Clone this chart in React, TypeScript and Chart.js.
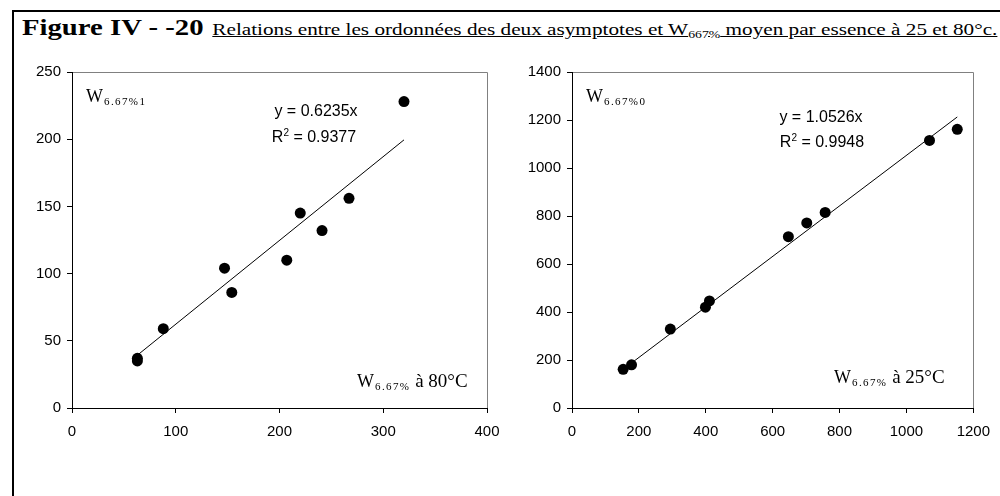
import React, { useEffect, useLayoutEffect, useRef } from "react";
import { Chart, registerables } from "chart.js";

Chart.register(...registerables);

// ---------- data ----------
const leftX = [63, 63, 88, 147, 154, 207, 220, 241, 267, 320];
const leftY = [37, 35, 59, 104, 86, 110, 145, 132, 156, 228];
const leftSlope = 0.6235;
const leftR2 = "0.9377";
const leftXTicks = [0, 100, 200, 300, 400];
const leftYTicks = [0, 50, 100, 150, 200, 250];

const rightX = [153, 178, 294, 399, 411, 647, 702, 757, 1069, 1152];
const rightY = [161, 180, 329, 420, 446, 714, 771, 815, 1115, 1161];
const rightSlope = 1.0526;
const rightR2 = "0.9948";
const rightXTicks = [0, 200, 400, 600, 800, 1000, 1200];
const rightYTicks = [0, 200, 400, 600, 800, 1000, 1200, 1400];

const SERIF = '"Liberation Serif", "Times New Roman", serif';
const SANS = '"Liberation Sans", Arial, sans-serif';

const framePlugin = {
  id: "frame",
  beforeDraw(chart: any) {
    const { ctx, chartArea: a } = chart;
    ctx.save();
    ctx.strokeStyle = "#808080";
    ctx.lineWidth = 1;
    ctx.beginPath();
    ctx.moveTo(a.left, Math.round(a.top) + 0.5);
    ctx.lineTo(Math.round(a.right) + 0.5, Math.round(a.top) + 0.5);
    ctx.lineTo(Math.round(a.right) + 0.5, a.bottom);
    ctx.stroke();
    ctx.restore();
  },
};

function makeConfig(
  xs: number[],
  ys: number[],
  slope: number,
  xTicks: number[],
  yTicks: number[],
  yAxisWidth: number,
  padRight: number
) {
  const minX = Math.min(...xs);
  const maxX = Math.max(...xs);
  const tickFont = { family: SANS, size: 15 };
  return {
    type: "scatter" as const,
    data: {
      datasets: [
        {
          data: xs.map((x, i) => ({ x, y: ys[i] })),
          pointRadius: 5.5,
          pointHoverRadius: 5.5,
          backgroundColor: "#000",
          borderColor: "#000",
          borderWidth: 0,
          showLine: false,
        },
        {
          data: [
            { x: minX, y: slope * minX },
            { x: maxX, y: slope * maxX },
          ],
          showLine: true,
          borderColor: "#000",
          borderWidth: 1,
          pointRadius: 0,
          fill: false,
        },
      ],
    },
    options: {
      animation: false,
      responsive: false,
      maintainAspectRatio: false,
      events: [],
      layout: { padding: { top: 17, right: padRight, left: 0, bottom: 0 } },
      plugins: { legend: { display: false }, tooltip: { enabled: false } },
      scales: {
        x: {
          type: "linear",
          min: xTicks[0],
          max: xTicks[xTicks.length - 1],
          afterFit: (s: any) => {
            s.height = 42;
          },
          afterBuildTicks: (s: any) => {
            s.ticks = xTicks.map((v) => ({ value: v }));
          },
          grid: {
            drawOnChartArea: false,
            drawTicks: true,
            tickLength: 5,
            color: "#000",
          },
          border: { display: true, color: "#000", width: 1 },
          ticks: {
            color: "#000",
            font: tickFont,
            padding: 10,
            maxRotation: 0,
            callback: (v: any) => String(v),
          },
        },
        y: {
          type: "linear",
          min: yTicks[0],
          max: yTicks[yTicks.length - 1],
          afterFit: (s: any) => {
            s.width = yAxisWidth;
          },
          afterBuildTicks: (s: any) => {
            s.ticks = yTicks.map((v) => ({ value: v }));
          },
          grid: {
            drawOnChartArea: false,
            drawTicks: true,
            tickLength: 5,
            color: "#000",
          },
          border: { display: true, color: "#000", width: 1 },
          ticks: {
            color: "#000",
            font: tickFont,
            padding: 6,
            callback: (v: any) => String(v),
          },
        },
      },
    },
    plugins: [framePlugin],
  };
}

function ChartCanvas(props: {
  left: number;
  top: number;
  width: number;
  height: number;
  config: any;
}) {
  const ref = useRef<HTMLCanvasElement | null>(null);
  useEffect(() => {
    if (!ref.current) return;
    const c = new Chart(ref.current, props.config);
    return () => c.destroy();
  }, []);
  return (
    <canvas
      ref={ref}
      width={props.width}
      height={props.height}
      style={{
        position: "absolute",
        left: props.left,
        top: props.top,
        width: props.width,
        height: props.height,
      }}
    />
  );
}

// text positioned by baseline
function T(props: {
  x: number;
  y: number;
  size: number;
  serif?: boolean;
  children: any;
  style?: any;
}) {
  const asc = props.serif ? 0.8375 : 0.8465;
  return (
    <div
      style={{
        position: "absolute",
        left: props.x,
        top: props.y - asc * props.size,
        fontSize: props.size,
        lineHeight: 1,
        fontFamily: props.serif ? SERIF : SANS,
        whiteSpace: "nowrap",
        color: "#000",
        ...(props.style || {}),
      }}
    >
      {props.children}
    </div>
  );
}

function Centered(props: { cx: number; y: number; size: number; children: any }) {
  return (
    <T
      x={props.cx - 100}
      y={props.y}
      size={props.size}
      style={{ width: 200, textAlign: "center" }}
    >
      {props.children}
    </T>
  );
}

function Title() {
  const ref = useRef<HTMLDivElement | null>(null);
  useLayoutEffect(() => {
    const el = ref.current;
    if (!el) return;
    const w = el.offsetWidth;
    const s = (997 - 22) / w;
    el.style.transform = `scaleX(${s})`;
  }, []);
  const size = 23;
  return (
    <div
      ref={ref}
      style={{
        position: "absolute",
        left: 22,
        top: 35 - 0.8375 * size,
        fontSize: size,
        lineHeight: 1,
        fontFamily: SERIF,
        fontWeight: "bold",
        whiteSpace: "nowrap",
        transformOrigin: "0 0",
        color: "#000",
      }}
    >
      Figure IV - -20
      <span
        style={{
          fontSize: 17,
          fontWeight: "normal",
          textDecoration: "underline",
          marginLeft: 7,
        }}
      >
        Relations entre les ordonnées des deux asymptotes et W
        <span style={{ fontSize: 11, position: "relative", top: 3 }}>667%</span> moyen par
        essence à 25 et 80°c.
      </span>
    </div>
  );
}

function WLabel(props: { x: number; y: number; sub: string; rest?: string }) {
  return (
    <T x={props.x} y={props.y} size={18} serif>
      W
      <span
        style={{
          fontSize: 11,
          position: "relative",
          top: 3,
          marginLeft: 1,
          letterSpacing: 1.4,
        }}
      >
        {props.sub}
      </span>
      {props.rest ? <span style={{ fontSize: 19 }}>{props.rest}</span> : null}
    </T>
  );
}

export default function App() {
  const leftCfg = makeConfig(leftX, leftY, leftSlope, leftXTicks, leftYTicks, 52, 23);
  const rightCfg = makeConfig(rightX, rightY, rightSlope, rightXTicks, rightYTicks, 57, 26);
  return (
    <div
      style={{
        position: "absolute",
        left: 0,
        top: 0,
        width: 1000,
        height: 496,
        overflow: "hidden",
        background: "#fff",
      }}
    >
      <div
        style={{
          position: "absolute",
          left: 12,
          top: 10,
          width: 1010,
          height: 500,
          borderLeft: "2px solid #000",
          borderTop: "2px solid #000",
        }}
      />
      <Title />
      <ChartCanvas left={20} top={55} width={490} height={395} config={leftCfg} />
      <ChartCanvas left={515} top={55} width={485} height={395} config={rightCfg} />

      <WLabel x={86} y={102.5} sub="6.67%1" />
      <WLabel x={586} y={102.5} sub="6.67%0" />
      <WLabel x={357} y={386} sub="6.67%" rest=" à 80°C" />
      <WLabel x={834} y={382} sub="6.67%" rest=" à 25°C" />

      <Centered cx={316} y={117} size={16}>
        y = {leftSlope}x
      </Centered>
      <Centered cx={314} y={142.5} size={16}>
        R<span style={{ fontSize: 10, position: "relative", top: -6 }}>2</span> = {leftR2}
      </Centered>
      <Centered cx={821} y={123} size={16}>
        y = {rightSlope}x
      </Centered>
      <Centered cx={822} y={147.5} size={16}>
        R<span style={{ fontSize: 10, position: "relative", top: -6 }}>2</span> = {rightR2}
      </Centered>
    </div>
  );
}
